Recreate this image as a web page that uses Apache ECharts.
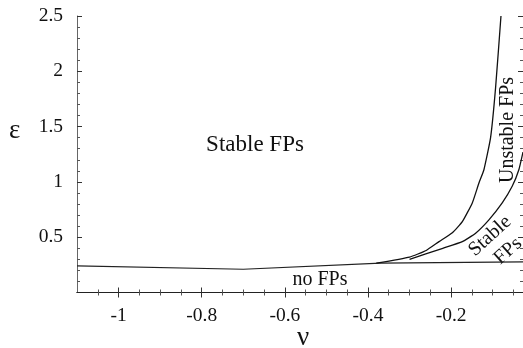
<!DOCTYPE html>
<html>
<head>
<meta charset="utf-8">
<script src="https://cdn.jsdelivr.net/npm/echarts@6/dist/echarts.min.js"></script>
<style>
  html, body { margin: 0; padding: 0; background: #fff; }
  #chart { width: 523px; height: 348px; }
</style>
</head>
<body>
<div id="chart"></div>
<script>
// lower boundary: below it there are no fixed points
const lowerNu = [-1.1, -0.7, -0.37, -0.027];
const lowerEps = [0.24, 0.21, 0.265, 0.277];

// boundary between stable and unstable FPs (left curve)
const unstableNu = [-0.38, -0.30, -0.26, -0.229, -0.197, -0.173, -0.149, -0.133, -0.121, -0.105, -0.093, -0.08];
const unstableEps = [0.265, 0.32, 0.38, 0.46, 0.54, 0.64, 0.81, 0.99, 1.11, 1.40, 1.85, 2.5];

// right curve
const stableNu = [-0.30, -0.22, -0.173, -0.141, -0.109, -0.077, -0.053, -0.037, -0.027];
const stableEps = [0.30, 0.40, 0.46, 0.536, 0.657, 0.81, 0.96, 1.11, 1.27];

const xTickLabels = [-1, -0.8, -0.6, -0.4, -0.2];
const xMinorTicks = [-1.05, -0.95, -0.9, -0.85, -0.75, -0.7, -0.65, -0.55, -0.5, -0.45,
  -0.35, -0.3, -0.25, -0.15, -0.1, -0.05];
const yTickLabels = [0.5, 1, 1.5, 2, 2.5];
const yMinorTicks = [0.1, 0.2, 0.3, 0.4, 0.6, 0.7, 0.8, 0.9, 1.1, 1.2, 1.3, 1.4,
  1.6, 1.7, 1.8, 1.9, 2.1, 2.2, 2.3, 2.4];

const FONT = "Liberation Serif, serif";
const INK = "#111";

const zip = (xs, ys) => xs.map((x, i) => [x, ys[i]]);

const chart = echarts.init(document.getElementById("chart"));

const xBase = { type: "value", min: -1.1, max: -0.027, gridIndex: 0, splitLine: { show: false } };
const yBase = { type: "value", min: 0, max: 2.5, gridIndex: 0, splitLine: { show: false } };

const option = {
  animation: false,
  textStyle: { fontFamily: FONT },
  grid: { left: 77, right: -1, top: 16, bottom: 55.5, containLabel: false },
  xAxis: [
    {
      ...xBase,
      position: "bottom",
      axisLine: { show: true, lineStyle: { color: "#222", width: 1 } },
      axisTick: { show: true, inside: true, length: 5, customValues: xTickLabels, lineStyle: { color: "#333" } },
      axisLabel: {
        customValues: xTickLabels,
        color: INK,
        fontFamily: FONT,
        fontSize: 19.5,
        margin: 13,
        formatter: (v) => String(v),
      },
    },
    {
      ...xBase,
      position: "bottom",
      axisLine: { show: false },
      axisTick: { show: true, inside: true, length: 3, customValues: xMinorTicks, lineStyle: { color: "#555" } },
      axisLabel: { show: false },
    },
    {
      ...xBase,
      position: "top",
      axisLine: { show: true, lineStyle: { color: "#222", width: 1 } },
      axisTick: { show: true, inside: true, length: 5, customValues: xTickLabels, lineStyle: { color: "#333" } },
      axisLabel: { show: false },
    },
    {
      ...xBase,
      position: "top",
      axisLine: { show: false },
      axisTick: { show: true, inside: true, length: 3, customValues: xMinorTicks, lineStyle: { color: "#555" } },
      axisLabel: { show: false },
    },
  ],
  yAxis: [
    {
      ...yBase,
      position: "left",
      axisLine: { show: true, lineStyle: { color: "#666", width: 1 } },
      axisTick: { show: true, inside: true, length: 5, customValues: yTickLabels, lineStyle: { color: "#333" } },
      axisLabel: {
        customValues: yTickLabels,
        color: INK,
        fontFamily: FONT,
        fontSize: 19.5,
        margin: 14,
        formatter: (v) => String(v),
      },
    },
    {
      ...yBase,
      position: "left",
      axisLine: { show: false },
      axisTick: { show: true, inside: true, length: 3, customValues: yMinorTicks, lineStyle: { color: "#555" } },
      axisLabel: { show: false },
    },
    {
      ...yBase,
      position: "right",
      axisLine: { show: true, lineStyle: { color: "#222", width: 1 } },
      axisTick: { show: true, inside: true, length: 5, customValues: yTickLabels, lineStyle: { color: "#333" } },
      axisLabel: { show: false },
    },
    {
      ...yBase,
      position: "right",
      axisLine: { show: false },
      axisTick: { show: true, inside: true, length: 3, customValues: yMinorTicks, lineStyle: { color: "#555" } },
      axisLabel: { show: false },
    },
  ],
  series: [
    {
      name: "lower",
      type: "line",
      data: zip(lowerNu, lowerEps),
      showSymbol: false,
      lineStyle: { color: "#222", width: 1.2 },
    },
    {
      name: "unstable",
      type: "line",
      data: zip(unstableNu, unstableEps),
      showSymbol: false,
      smooth: 0.15,
      lineStyle: { color: "#111", width: 1.3 },
    },
    {
      name: "stable",
      type: "line",
      data: zip(stableNu, stableEps),
      showSymbol: false,
      smooth: 0.15,
      lineStyle: { color: "#111", width: 1.3 },
    },
  ],
  graphic: [
    { type: "text", left: 9, top: 117, style: { text: "ε", font: `27px ${FONT}`, fill: INK } },
    { type: "text", x: 303, y: 338, style: { text: "ν", font: `27px ${FONT}`, fill: INK, textAlign: "center", textVerticalAlign: "middle" } },
    { type: "text", x: 255, y: 145, style: { text: "Stable FPs", font: `23px ${FONT}`, fill: INK, textAlign: "center", textVerticalAlign: "middle" } },
    { type: "text", x: 320, y: 280, style: { text: "no FPs", font: `20px ${FONT}`, fill: INK, textAlign: "center", textVerticalAlign: "middle" } },
    { type: "text", x: 508, y: 130, rotation: Math.PI / 2, style: { text: "Unstable FPs", font: `20px ${FONT}`, fill: INK, textAlign: "center", textVerticalAlign: "middle" } },
    { type: "text", x: 490, y: 236, rotation: 42 * Math.PI / 180, style: { text: "Stable", font: `20px ${FONT}`, fill: INK, textAlign: "center", textVerticalAlign: "middle" } },
    { type: "text", x: 508, y: 251, rotation: 42 * Math.PI / 180, style: { text: "FPs", font: `20px ${FONT}`, fill: INK, textAlign: "center", textVerticalAlign: "middle" } },
  ],
};

chart.setOption(option);
</script>
</body>
</html>
